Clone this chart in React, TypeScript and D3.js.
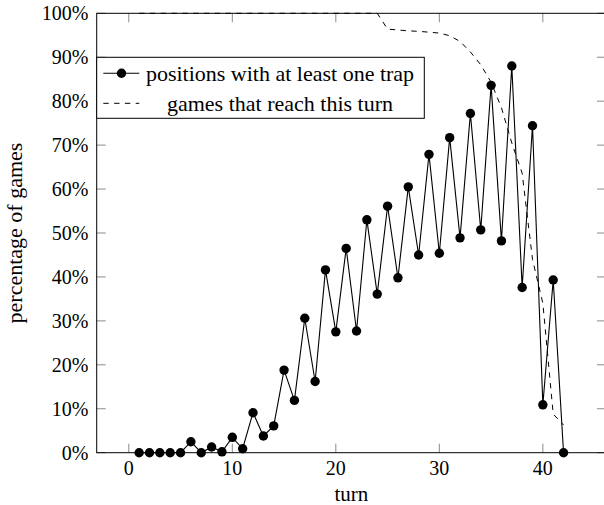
import React from "react";
import * as d3 from "d3";

const turns = [1,2,3,4,5,6,7,8,9,10,11,12,13,14,15,16,17,18,19,20,21,22,23,24,25,26,27,28,29,30,31,32,33,34,35,36,37,38,39,40,41,42];
const trapPct = [0,0,0,0,0,2.5,0,1.3,0.2,3.5,0.9,9.1,3.8,6.1,18.8,11.9,30.6,16.2,41.6,27.5,46.5,27.7,53.0,36.1,56.1,39.8,60.5,45.0,67.9,45.4,71.7,48.9,77.2,50.7,83.6,48.2,88.0,37.6,74.4,10.9,39.3,0];
const reachPct = [100,100,100,100,100,100,100,100,100,100,100,100,100,100,100,100,100,100,100,100,100,100,100,100,96.4,96.2,96.0,95.9,95.7,95.5,94.9,93.6,91.2,88.3,84.3,78.5,70.5,63.6,44.0,34.0,8.8,6.3];
const xTicks = [0,10,20,30,40];
const yTicks = [0,10,20,30,40,50,60,70,80,90,100];
const seriesNames = ["positions with at least one trap", "games that reach this turn"];
const xLabel = "turn";
const yLabel = "percentage of games";

const FF = "Liberation Serif";

export default function App() {
  const W = 604, H = 505;
  const L = 96.7, R = 606, T = 13.3, B = 452.7;
  const x = d3.scaleLinear().domain([-3.1, 46.1]).range([L, R]);
  const y = d3.scaleLinear().domain([0, 100]).range([B, T]);
  const trapData = turns.map((t, i) => [t, trapPct[i]] as [number, number]);
  const reachData = turns.map((t, i) => [t, reachPct[i]] as [number, number]);
  const line = d3.line<[number, number]>().x(d => x(d[0])).y(d => y(d[1]));
  const tickLen = 9;
  const tickColor = "#8a8a8a";
  const legX = 96.7, legY = 57.3, legW = 327.6, legH = 61;
  return (
    <svg width={W} height={H} style={{ position: "absolute", left: 0, top: 0, background: "#fff" }}>
      <rect x={0} y={0} width={W} height={H} fill="#fff" />
      {xTicks.map(t => (
        <g key={"xt" + t}>
          <line x1={x(t)} x2={x(t)} y1={B} y2={B - tickLen} stroke={tickColor} strokeWidth={1} />
          <line x1={x(t)} x2={x(t)} y1={T} y2={T + tickLen} stroke={tickColor} strokeWidth={1} />
          <text x={x(t)} y={475} fontSize={20} textAnchor="middle" fill="#000" style={{ fontFamily: FF }}>{t}</text>
        </g>
      ))}
      {yTicks.map(t => (
        <g key={"yt" + t}>
          <line x1={L} x2={L + tickLen} y1={y(t)} y2={y(t)} stroke={tickColor} strokeWidth={1} />
          <line x1={R} x2={R - tickLen} y1={y(t)} y2={y(t)} stroke={tickColor} strokeWidth={1} />
          <text x={88.5} y={y(t)} dy="0.34em" fontSize={20} textAnchor="end" fill="#000" style={{ fontFamily: FF }}>{t}%</text>
        </g>
      ))}
      <path d={line(reachData) || ""} fill="none" stroke="#000" strokeWidth={1} strokeDasharray="5.4 5.4" />
      <path d={line(trapData) || ""} fill="none" stroke="#000" strokeWidth={1.1} />
      {trapData.map((d, i) => (
        <circle key={"c" + i} cx={x(d[0])} cy={y(d[1])} r={4.7} fill="#000" />
      ))}
      <rect x={L} y={T} width={R - L} height={B - T} fill="none" stroke="#000" strokeWidth={1} />
      <rect x={legX} y={legY} width={legW} height={legH} fill="#fff" stroke="#000" strokeWidth={1} />
      <line x1={103.3} x2={139.3} y1={73.3} y2={73.3} stroke="#000" strokeWidth={1.1} />
      <circle cx={121.5} cy={73.3} r={4.7} fill="#000" />
      <line x1={103.3} x2={139.3} y1={103.3} y2={103.3} stroke="#000" strokeWidth={1} strokeDasharray="5.4 5.4" />
      <text x={280} y={80.5} fontSize={22} textAnchor="middle" fill="#000" style={{ fontFamily: FF }}>{seriesNames[0]}</text>
      <text x={280} y={110.5} fontSize={22} textAnchor="middle" fill="#000" style={{ fontFamily: FF }}>{seriesNames[1]}</text>
      <text x={(L + R) / 2} y={501} fontSize={21} textAnchor="middle" fill="#000" style={{ fontFamily: FF }}>{xLabel}</text>
      <text transform={`translate(21.5, ${(T + B) / 2}) rotate(-90)`} fontSize={22} textAnchor="middle" fill="#000" style={{ fontFamily: FF }}>{yLabel}</text>
    </svg>
  );
}
